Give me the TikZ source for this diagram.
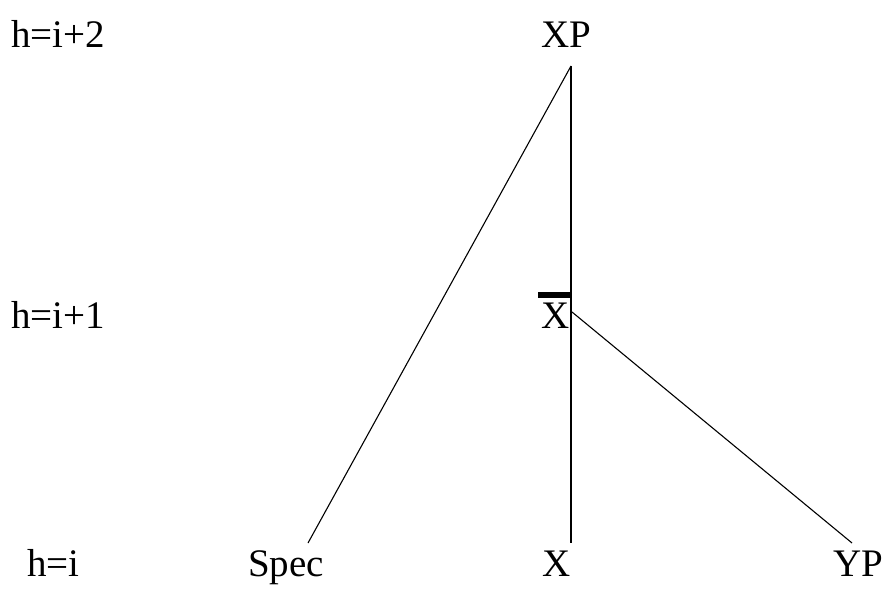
\documentclass[tikz,border=0pt]{standalone}
\usepackage{fontspec}
\setmainfont{Liberation Serif}
\begin{document}
\begin{tikzpicture}[x=1pt,y=-1pt,
  lbl/.style={inner sep=0pt, anchor=base, font=\fontsize{39}{47}\selectfont},
  lvl/.style={inner sep=0pt, anchor=base west, font=\fontsize{39}{47}\selectfont},
  branch/.style={draw=black, line width=1.1pt}]
\useasboundingbox (0,0) rectangle (890,593);
% level labels
\node[lvl] (h2) at (11,48) {h=i+2};
\node[lvl] (h1) at (11,328) {h=i+1};
\node[lvl] (h0) at (27,576) {h=i};
% tree labels
\node[lbl] (xp) at (566,48) {XP};
\node[lbl] (xbar) at (556,328) {X};
\node[lbl] (spec) at (286,576) {Spec};
\node[lbl] (x) at (557,576) {X};
\node[lbl] (yp) at (858,576) {YP};
% bar over X
\fill (538,292) rectangle (571,298);
% connector end points
\coordinate (xpb) at (571,66);
\coordinate (xbarr) at (572,312);
\coordinate (spect) at (308,543);
\coordinate (xt) at (571,543);
\coordinate (ypt) at (852,543);
\draw[branch] (xpb) -- (spect);
\draw[branch] (xpb) -- (xt);
\draw[branch] (xbarr) -- (ypt);
\end{tikzpicture}
\end{document}
